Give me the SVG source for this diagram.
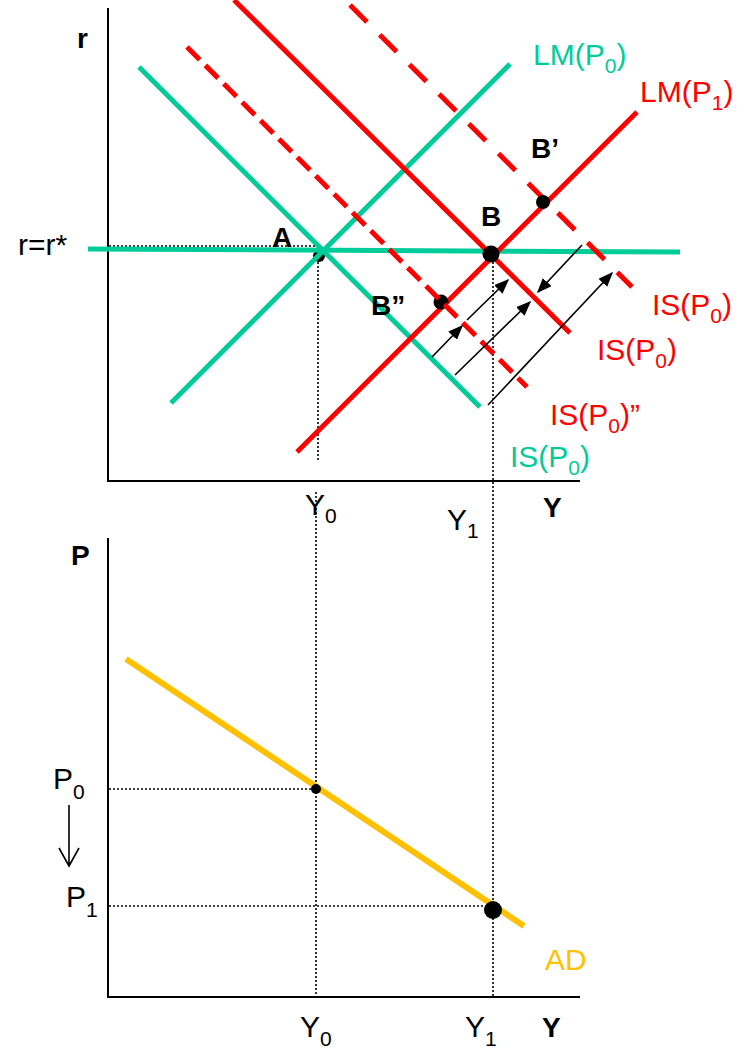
<svg xmlns="http://www.w3.org/2000/svg" width="737" height="1048" viewBox="0 0 737 1048">
<style>
text{font-family:"Liberation Sans",Arial,sans-serif;font-size:30px}
.b{font-weight:bold;font-size:28px}
.g{fill:#00CC99}
.r{fill:#FF0000}
.y{fill:#FFC000}
.sub{font-size:21px}
.axis{stroke:#000;stroke-width:2;fill:none}
.dot{stroke:#000;stroke-width:1.6;stroke-dasharray:2,2;fill:none}
.gl{stroke:#00CC99;stroke-width:5;fill:none}
.rl{stroke:#FF0000;stroke-width:5;fill:none}
.arr{stroke:#000;stroke-width:1.6;fill:none;marker-end:url(#ah)}
</style>
<defs>
<marker id="ah" viewBox="0 0 10 10" refX="9" refY="5" markerWidth="15" markerHeight="12" markerUnits="userSpaceOnUse" orient="auto" preserveAspectRatio="none">
<path d="M0,0 L10,5 L0,10 z" fill="#000"/>
</marker>
</defs>
<rect width="737" height="1048" fill="#fff"/>

<g id="axes">
<line class="axis" x1="108" y1="8" x2="108" y2="481"/>
<line class="axis" x1="107" y1="481" x2="580" y2="481"/>
<line class="axis" x1="108" y1="538" x2="108" y2="997"/>
<line class="axis" x1="107" y1="997" x2="580" y2="997"/>
</g>

<g id="guides">
<line class="dot" x1="109" y1="246" x2="318" y2="246"/>
<line class="dot" x1="318" y1="254" x2="318" y2="462"/>
<line class="dot" x1="316" y1="492" x2="316" y2="997"/>
<line class="dot" x1="493" y1="254" x2="493" y2="997"/>
<line class="dot" x1="109" y1="789" x2="316" y2="789"/>
<line class="dot" x1="109" y1="906" x2="493" y2="906"/>
</g>

<g id="pointA"><circle cx="319" cy="256" r="6" fill="#000"/></g>

<g id="curves">
<line id="rstar" class="gl" x1="88" y1="249" x2="680" y2="252"/>
<line id="LM0" class="gl" x1="171" y1="403" x2="510" y2="64"/>
<line id="IS0g" class="gl" x1="139" y1="67" x2="480" y2="407"/>
<line id="IS0r" class="rl" x1="234" y1="0" x2="570" y2="333"/>
<line id="LM1" class="rl" x1="297" y1="452" x2="637" y2="112"/>
<line id="ISp" class="rl" x1="350" y1="5" x2="632" y2="287" stroke-dasharray="24,18"/>
<line id="AD" x1="126" y1="659" x2="524" y2="926" stroke="#FFC000" stroke-width="6"/>
</g>

<g id="pointB2"><circle cx="441" cy="302" r="7.5" fill="#000"/></g>
<g id="curveISpp"><line id="ISpp" class="rl" x1="187" y1="47" x2="527" y2="387" stroke-dasharray="18,8"/></g>

<g id="points">
<circle cx="491" cy="254" r="8.5" fill="#000"/>
<circle cx="543" cy="202" r="7" fill="#000"/>
<circle cx="316" cy="789" r="5" fill="#000"/>
<circle cx="493" cy="910" r="9" fill="#000"/>
</g>

<g id="connectors">
<line class="arr" x1="582" y1="245" x2="538" y2="292"/>
<line class="arr" x1="432" y1="357" x2="462" y2="326"/>
<line class="arr" x1="467" y1="320" x2="508" y2="280"/>
<line class="arr" x1="455" y1="375" x2="530" y2="302"/>
<line class="arr" x1="488" y1="405" x2="612" y2="273"/>
<path d="M69,805 V866 M59,848 L69,866 L79,848" stroke="#000" stroke-width="1.6" fill="none"/>
</g>

<g id="labels">
<text class="b" x="77" y="48">r</text>
<text x="18" y="255">r=r*</text>
<text class="b" x="272" y="247">A</text>
<text class="b" x="481" y="226">B</text>
<text class="b" x="531" y="158">B’</text>
<text class="b" x="371" y="315">B”</text>
<text class="g" x="533" y="65">LM(P<tspan class="sub" dy="8">0</tspan><tspan dy="-8">)</tspan></text>
<text class="r" x="640" y="102">LM(P<tspan class="sub" dy="8">1</tspan><tspan dy="-8">)</tspan></text>
<text class="r" x="652" y="315">IS(P<tspan class="sub" dy="8">0</tspan><tspan dy="-8">)</tspan></text>
<text class="r" x="597" y="360">IS(P<tspan class="sub" dy="8">0</tspan><tspan dy="-8">)</tspan></text>
<text class="r" x="550" y="425">IS(P<tspan class="sub" dy="8">0</tspan><tspan dy="-8">)”</tspan></text>
<text class="g" x="510" y="467">IS(P<tspan class="sub" dy="8">0</tspan><tspan dy="-8">)</tspan></text>
<text x="305" y="515">Y<tspan class="sub" dy="8">0</tspan></text>
<text x="447" y="530">Y<tspan class="sub" dy="8">1</tspan></text>
<text class="b" x="543" y="517">Y</text>
<text class="b" x="71" y="565">P</text>
<text x="53" y="789">P<tspan class="sub" dy="10">0</tspan></text>
<text x="66" y="907">P<tspan class="sub" dy="10">1</tspan></text>
<text class="y" x="545" y="970">AD</text>
<text x="300" y="1037">Y<tspan class="sub" dy="9">0</tspan></text>
<text x="465" y="1037">Y<tspan class="sub" dy="9">1</tspan></text>
<text class="b" x="542" y="1037">Y</text>
</g>
</svg>
